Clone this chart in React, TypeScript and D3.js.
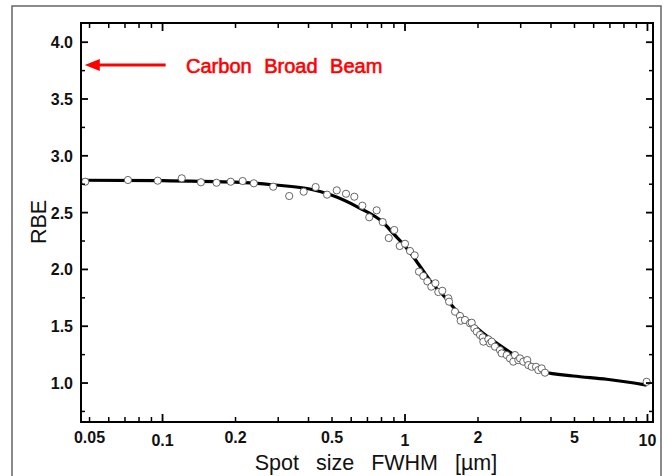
import React from 'react';
import * as d3 from 'd3';

// Measured data points (spot size FWHM in µm, RBE)
const pointX = [0.048, 0.072, 0.0955, 0.12, 0.144, 0.167, 0.191, 0.214, 0.238, 0.286, 0.333, 0.382, 0.428, 0.477, 0.523, 0.571, 0.618, 0.667, 0.712, 0.764, 0.809, 0.857, 0.903, 0.951, 1.0, 1.049, 1.096, 1.142, 1.19, 1.236, 1.284, 1.334, 1.372, 1.425, 1.509, 1.52, 1.608, 1.686, 1.697, 1.768, 1.854, 1.884, 1.931, 1.976, 2.039, 2.092, 2.104, 2.206, 2.242, 2.278, 2.35, 2.465, 2.504, 2.627, 2.71, 2.797, 2.842, 2.933, 2.98, 3.075, 3.193, 3.225, 3.331, 3.47, 3.546, 3.662, 3.779, 9.92];
const pointY = [2.772, 2.787, 2.781, 2.802, 2.767, 2.763, 2.772, 2.778, 2.758, 2.728, 2.646, 2.684, 2.725, 2.658, 2.696, 2.666, 2.64, 2.561, 2.459, 2.52, 2.417, 2.276, 2.347, 2.206, 2.226, 2.162, 2.124, 1.98, 1.942, 1.895, 1.848, 1.878, 1.801, 1.812, 1.746, 1.716, 1.628, 1.59, 1.548, 1.555, 1.526, 1.531, 1.482, 1.452, 1.423, 1.402, 1.364, 1.385, 1.349, 1.364, 1.32, 1.29, 1.261, 1.246, 1.217, 1.188, 1.246, 1.202, 1.217, 1.188, 1.202, 1.158, 1.143, 1.143, 1.114, 1.129, 1.091, 1.011];

// Fitted curve
const curveX = [0.0461, 0.1, 0.2, 0.29, 0.4, 0.49, 0.65, 0.81, 0.9, 1.0, 1.1, 1.2, 1.3, 1.435, 1.69, 1.91, 2.24, 2.63, 3.08, 3.72, 4.94, 6.79, 9.92];
const curveY = [2.785, 2.781, 2.769, 2.743, 2.71, 2.659, 2.54, 2.415, 2.31, 2.205, 2.09, 1.975, 1.87, 1.775, 1.599, 1.511, 1.393, 1.29, 1.202, 1.099, 1.062, 1.033, 0.982];

const xMajorTicks = [0.1, 1, 10];
const xMinorTicks = [0.05, 0.06, 0.07, 0.08, 0.09, 0.2, 0.3, 0.4, 0.5, 0.6, 0.7, 0.8, 0.9, 2, 3, 4, 5, 6, 7, 8, 9];
const xTickLabelValues = [0.05, 0.1, 0.2, 0.5, 1, 2, 5, 10];
const xTickLabels = ['0.05', '0.1', '0.2', '0.5', '1', '2', '5', '10'];
const yMajorTicks = [1.0, 1.5, 2.0, 2.5, 3.0, 3.5, 4.0];
const yMinorTicks = [0.75, 1.25, 1.75, 2.25, 2.75, 3.25, 3.75];

const xTitle = 'Spot size FWHM [\u00b5m]';
const yTitle = 'RBE';
const annotationText = 'Carbon Broad Beam';
const annotationY = 3.8;
const arrowFromX = 0.103;
const arrowToX = 0.0478;
const annotationTextX = 0.125;

const FONT = '"Liberation Sans", Arial, Helvetica, sans-serif';

export default function App() {
  const W = 667;
  const H = 476;
  const left = 81, right = 653, top = 23, bottom = 422;
  const x = d3.scaleLog().domain([0.0461, 10.54]).range([left, right]);
  const y = d3.scaleLinear().domain([0.657, 4.169]).range([bottom, top]);

  const line = d3
    .line<number>()
    .x((_, i) => x(curveX[i]))
    .y((_, i) => y(curveY[i]))
    .curve(d3.curveMonotoneX);
  const curvePath = line(curveX) || '';

  const isDecade = (v: number) => Math.abs(Math.log10(v) - Math.round(Math.log10(v))) < 1e-9;

  const ay = y(annotationY);
  const ax0 = x(arrowFromX);
  const ax1 = x(arrowToX);

  return (
    <svg
      width={W}
      height={H}
      style={{ position: 'absolute', left: 0, top: 0, background: '#fff' }}
      fontFamily={FONT}
    >
      <rect x={0} y={0} width={W} height={H} fill="#fff" />
      {/* outer frame */}
      <path d={`M12,${H + 5} V6 H661 V${H + 5}`} fill="none" stroke="#666" strokeWidth={1.5} />

      {/* curve */}
      <path d={curvePath} fill="none" stroke="#000" strokeWidth={3.2} strokeLinejoin="round" />

      {/* points */}
      {pointX.map((v, i) => (
        <circle key={i} cx={x(v)} cy={y(pointY[i])} r={3.6} fill="#fff" stroke="#555" strokeWidth={0.9} />
      ))}

      {/* axes frame */}
      <rect x={left} y={top} width={right - left} height={bottom - top} fill="none" stroke="#000" strokeWidth={2} />

      {/* x ticks bottom & top */}
      {xMinorTicks.map((v) => (
        <g key={'xm' + v}>
          <line x1={x(v)} x2={x(v)} y1={bottom} y2={bottom - 5} stroke="#000" strokeWidth={1.5} />
          <line x1={x(v)} x2={x(v)} y1={top} y2={top + 5} stroke="#000" strokeWidth={1.5} />
        </g>
      ))}
      {xMajorTicks.map((v) => (
        <g key={'xM' + v}>
          <line x1={x(v)} x2={x(v)} y1={bottom} y2={bottom - 8} stroke="#000" strokeWidth={1.8} />
          <line x1={x(v)} x2={x(v)} y1={top} y2={top + 8} stroke="#000" strokeWidth={1.8} />
        </g>
      ))}
      {xTickLabelValues.map((v, i) => (
        <text
          key={'xl' + v}
          x={x(v)}
          y={isDecade(v) ? 446 : 443}
          textAnchor="middle"
          fontSize={16}
          fontWeight="bold"
          fill="#111"
        >
          {xTickLabels[i]}
        </text>
      ))}

      {/* y ticks left & right */}
      {yMinorTicks.map((v) => (
        <g key={'ym' + v}>
          <line x1={left} x2={left + 4} y1={y(v)} y2={y(v)} stroke="#000" strokeWidth={1.5} />
          <line x1={right} x2={right - 4} y1={y(v)} y2={y(v)} stroke="#000" strokeWidth={1.5} />
        </g>
      ))}
      {yMajorTicks.map((v) => (
        <g key={'yM' + v}>
          <line x1={left} x2={left + 7} y1={y(v)} y2={y(v)} stroke="#000" strokeWidth={1.8} />
          <line x1={right} x2={right - 7} y1={y(v)} y2={y(v)} stroke="#000" strokeWidth={1.8} />
          <text x={73} y={y(v) + 6} textAnchor="end" fontSize={16} fontWeight="bold" fill="#111">
            {v.toFixed(1)}
          </text>
        </g>
      ))}

      {/* axis titles */}
      <text x={376} y={470} textAnchor="middle" fontSize={21.5} wordSpacing={11} fill="#111">
        {xTitle}
      </text>
      <text
        transform={`translate(46,222) rotate(-90)`}
        textAnchor="middle"
        fontSize={21.5}
        fill="#111"
      >
        {yTitle}
      </text>

      {/* annotation */}
      <line x1={ax0} x2={ax1 + 12} y1={ay} y2={ay} stroke="#f00" strokeWidth={3} />
      <path d={`M${ax1},${ay} L${ax1 + 15},${ay - 6} L${ax1 + 15},${ay + 6} Z`} fill="#f00" />
      <text
        x={x(annotationTextX)}
        y={73}
        fontSize={20}
        fill="#f00"
        stroke="#f00"
        strokeWidth={0.6}
        wordSpacing={7}
      >
        {annotationText}
      </text>
    </svg>
  );
}
